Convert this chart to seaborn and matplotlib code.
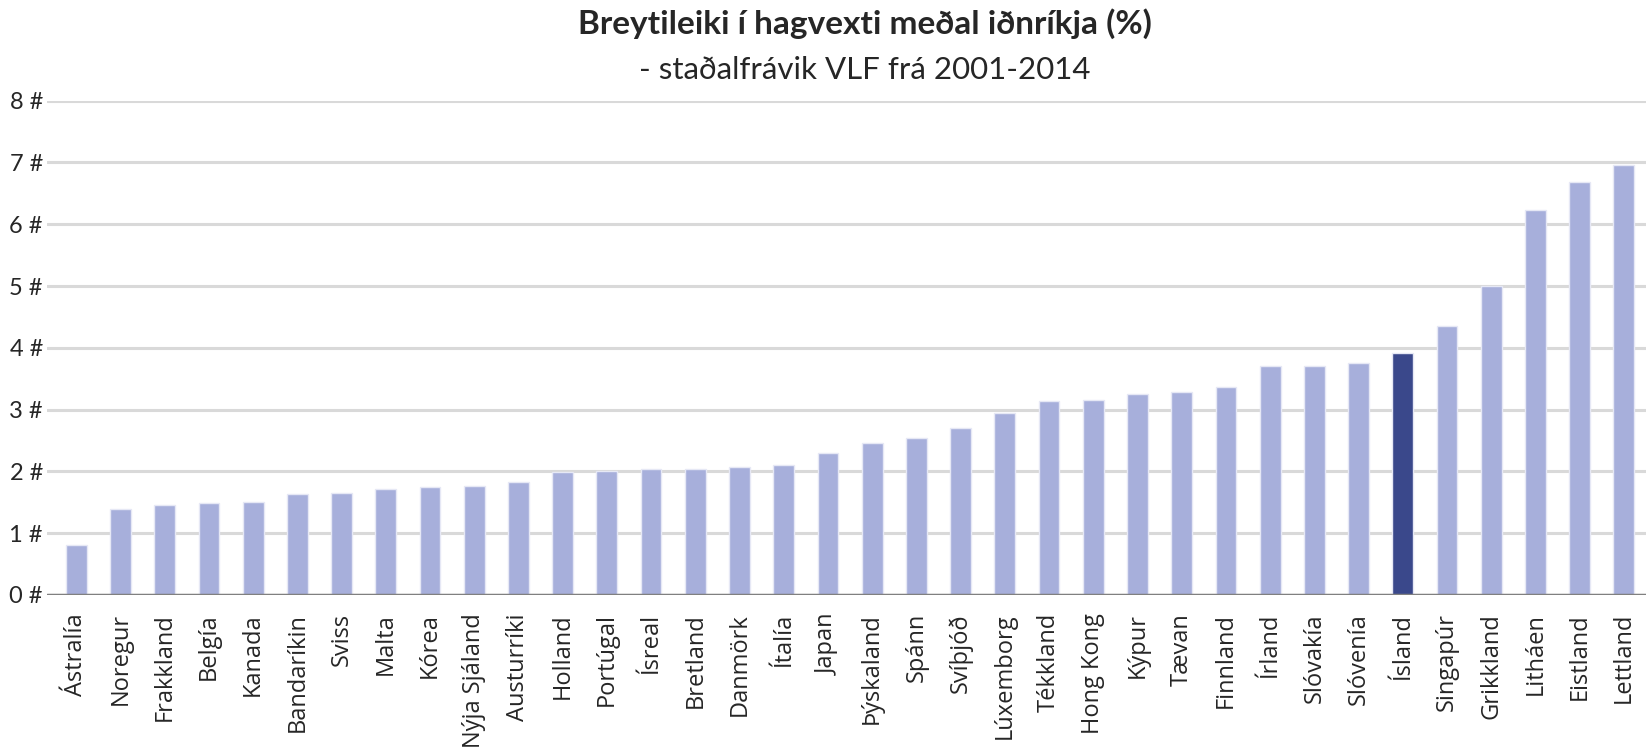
import matplotlib
matplotlib.use("Agg")
import matplotlib.pyplot as plt
from matplotlib.font_manager import FontProperties
import seaborn as sns
import pandas as pd

# --- Data ---
countries = [
    "Ástralía", "Noregur", "Frakkland", "Belgía", "Kanada", "Bandaríkin", "Sviss",
    "Malta", "Kórea", "Nýja Sjáland", "Austurríki", "Holland", "Portúgal", "Ísreal",
    "Bretland", "Danmörk", "Ítalía", "Japan", "Þýskaland", "Spánn", "Svíþjóð",
    "Lúxemborg", "Tékkland", "Hong Kong", "Kýpur", "Tævan", "Finnland", "Írland",
    "Slóvakía", "Slóvenía", "Ísland", "Singapúr", "Grikkland", "Litháen", "Eistland",
    "Lettland",
]
std_gdp = [
    0.81, 1.39, 1.45, 1.49, 1.50, 1.63, 1.65,
    1.72, 1.75, 1.76, 1.83, 1.99, 2.01, 2.04,
    2.04, 2.07, 2.10, 2.30, 2.46, 2.54, 2.71,
    2.94, 3.14, 3.15, 3.25, 3.28, 3.36, 3.71,
    3.71, 3.76, 3.92, 4.36, 5.00, 6.23, 6.69,
    6.96,
]
highlight = "Ísland"
y_ticks = [0, 1, 2, 3, 4, 5, 6, 7, 8]

LIGHT = "#A7AFDB"
DARK = "#3A488B"

df = pd.DataFrame({"land": countries, "std": std_gdp})
palette = {c: (DARK if c == highlight else LIGHT) for c in countries}

sns.set_theme(style="white")
plt.rcParams["font.family"] = ["Lato", "DejaVu Sans"]

fig = plt.figure(figsize=(16.46, 7.47), dpi=100)
ax = fig.add_axes([0.0286, 0.2035, 0.9714, 0.6618])

sns.barplot(data=df, x="land", y="std", hue="land", palette=palette,
            legend=False, width=0.47, edgecolor="#E6E8F5", linewidth=1,
            saturation=1, ax=ax, zorder=3)

ax.set_ylim(0, 8)
ax.set_xlim(-0.66, len(countries) - 0.5)
ax.set_yticks(y_ticks)
ax.set_yticklabels([f"{t} #" for t in y_ticks])
ax.yaxis.grid(True, color="#D9D9D9", linewidth=2.2, zorder=0)
ax.axhline(0, color="#808080", linewidth=2.5, zorder=4)
for s in ax.spines.values():
    s.set_visible(False)
ax.tick_params(axis="y", length=0, pad=3, labelsize=17)
ax.tick_params(axis="x", length=0, pad=13)
ax.set_xlabel("")
ax.set_ylabel("")

# x labels: set font explicitly on every label after the ticks exist
fig.canvas.draw()
xfont = FontProperties(family="Open Sans", size=17)
for lbl in ax.get_xticklabels():
    lbl.set_fontproperties(xfont)
    lbl.set_rotation(90)

fig.text(0.5255, 0.969, "Breytileiki í hagvexti meðal iðnríkja (%)", ha="center",
         va="center", fontsize=24, fontweight="bold")
fig.text(0.5255, 0.906, "- staðalfrávik VLF frá 2001-2014", ha="center",
         va="center", fontsize=22.5)

fig.savefig("out.png", dpi=100, facecolor="white")
